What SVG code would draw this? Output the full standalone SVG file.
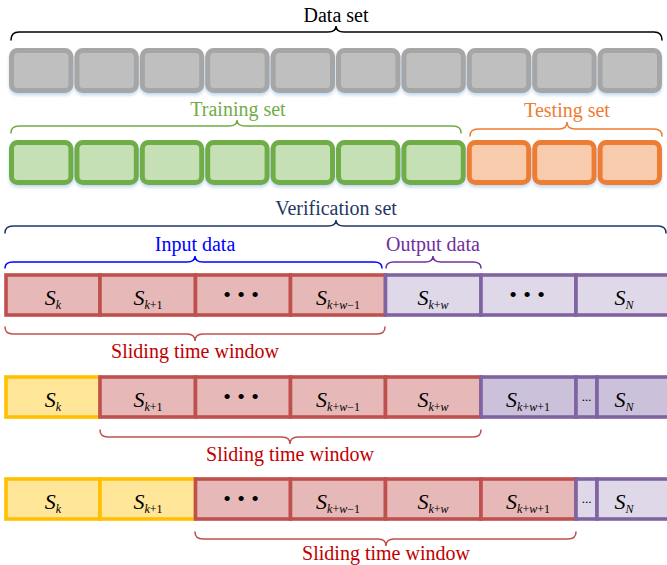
<svg xmlns="http://www.w3.org/2000/svg" width="667" height="565" viewBox="0 0 667 565">
<defs>
<filter id="sh" x="-10%" y="-10%" width="120%" height="140%">
<feDropShadow dx="0" dy="2.5" stdDeviation="1.8" flood-color="#9dc3e6" flood-opacity="0.6"/>
</filter>
</defs>
<style>
.lbl{font-family:"Liberation Serif","Times New Roman",serif;font-size:20px;text-anchor:middle}
.s{font-family:"Liberation Serif","Times New Roman",serif;font-size:22px;font-style:italic;text-anchor:middle;fill:#000}
.i{font-size:12px;font-style:italic}
.u{font-size:12px;font-style:normal}
.dots{font-family:"Liberation Serif","Times New Roman",serif;font-size:22px;text-anchor:middle;fill:#000}
.sm{font-family:"Liberation Serif","Times New Roman",serif;font-size:13px;text-anchor:middle;fill:#000}
.gray{fill:#bfbfbf;stroke:#a6a6a6;stroke-width:5}
.green{fill:#c5e0b4;stroke:#70ad47;stroke-width:5}
.orange{fill:#f8cbad;stroke:#ed7d31;stroke-width:5}
.red{fill:#e6b9b8;stroke:#c0504d;stroke-width:3.6}
.pl{fill:#dfd8e8;stroke:#8064a2;stroke-width:3.6}
.pd{fill:#ccc1da;stroke:#8064a2;stroke-width:3.6}
.yel{fill:#ffe699;stroke:#ffc000;stroke-width:3.6}
.br{fill:none;stroke-width:1.5;stroke-linecap:round}
</style>

<g id="connectors">
<path class="br" stroke="#000" d="M11 40 Q11 32 19 32 H328 Q336 32 336 26 Q336 32 344 32 H654 Q662 32 662 40"/>
<path class="br" stroke="#70ad47" d="M11 133 Q11 126 19 126 H229 Q237 126 237 120 Q237 126 245 126 H453 Q461 126 461 133"/>
<path class="br" stroke="#ed7d31" d="M470 136 Q470 129 478 129 H559 Q567 129 567 122 Q567 129 575 129 H654 Q662 129 662 136"/>
<path class="br" stroke="#1f3864" d="M5 233 Q5 226 13 226 H328 Q336 226 336 220 Q336 226 344 226 H658 Q666 226 666 233"/>
<path class="br" stroke="#0000ff" d="M5 268 Q5 262 13 262 H187 Q195 262 195 256 Q195 262 203 262 H374 Q382 262 382 268"/>
<path class="br" stroke="#7030a0" d="M386 268 Q386 262 394 262 H425 Q433 262 433 256 Q433 262 441 262 H473 Q481 262 481 268"/>
<path class="br" stroke="#c0504d" d="M5 327 Q5 334 13 334 H187 Q195 334 195 341 Q195 334 203 334 H377 Q385 334 385 327"/>
<path class="br" stroke="#c0504d" d="M100 430 Q100 437 108 437 H282 Q290 437 290 444 Q290 437 298 437 H473 Q481 437 481 430"/>
<path class="br" stroke="#c0504d" d="M195 532 Q195 539 203 539 H378 Q386 539 386 546 Q386 539 394 539 H568 Q576 539 576 532"/>
</g>

<g id="labels">
<text class="lbl" x="336" y="22" fill="#000">Data set</text>
<text class="lbl" x="238" y="116" fill="#70ad47">Training set</text>
<text class="lbl" x="567" y="117" fill="#ed7d31">Testing set</text>
<text class="lbl" x="336" y="215" fill="#1f3864">Verification set</text>
<text class="lbl" x="195" y="251" fill="#0000ff">Input data</text>
<text class="lbl" x="433" y="251" fill="#7030a0">Output data</text>
<text class="lbl" x="195" y="358" fill="#c00000">Sliding time window</text>
<text class="lbl" x="290" y="461" fill="#c00000">Sliding time window</text>
<text class="lbl" x="386" y="560" fill="#c00000">Sliding time window</text>
</g>

<g id="dataset" filter="url(#sh)">
<rect class="gray" x="11.5" y="50.5" width="59.4" height="40" rx="6"/>
<rect class="gray" x="76.9" y="50.5" width="59.4" height="40" rx="6"/>
<rect class="gray" x="142.3" y="50.5" width="59.4" height="40" rx="6"/>
<rect class="gray" x="207.7" y="50.5" width="59.4" height="40" rx="6"/>
<rect class="gray" x="273.1" y="50.5" width="59.4" height="40" rx="6"/>
<rect class="gray" x="338.5" y="50.5" width="59.4" height="40" rx="6"/>
<rect class="gray" x="403.9" y="50.5" width="59.4" height="40" rx="6"/>
<rect class="gray" x="469.3" y="50.5" width="59.4" height="40" rx="6"/>
<rect class="gray" x="534.7" y="50.5" width="59.4" height="40" rx="6"/>
<rect class="gray" x="600.1" y="50.5" width="59.4" height="40" rx="6"/>
</g>

<g id="training" filter="url(#sh)">
<rect class="green" x="11.5" y="142.5" width="59.4" height="40" rx="6"/>
<rect class="green" x="76.9" y="142.5" width="59.4" height="40" rx="6"/>
<rect class="green" x="142.3" y="142.5" width="59.4" height="40" rx="6"/>
<rect class="green" x="207.7" y="142.5" width="59.4" height="40" rx="6"/>
<rect class="green" x="273.1" y="142.5" width="59.4" height="40" rx="6"/>
<rect class="green" x="338.5" y="142.5" width="59.4" height="40" rx="6"/>
<rect class="green" x="403.9" y="142.5" width="59.4" height="40" rx="6"/>
</g>

<g id="testing" filter="url(#sh)">
<rect class="orange" x="469.3" y="142.5" width="59.4" height="40" rx="6"/>
<rect class="orange" x="534.7" y="142.5" width="59.4" height="40" rx="6"/>
<rect class="orange" x="600.1" y="142.5" width="59.4" height="40" rx="6"/>
</g>

<g id="row1">
<rect class="red" x="6" y="275" width="94" height="40"/>
<rect class="red" x="100" y="275" width="95.5" height="40"/>
<rect class="red" x="195.5" y="275" width="95" height="40"/>
<rect class="red" x="290.5" y="275" width="95" height="40"/>
<rect class="pl" x="385.5" y="275" width="95.5" height="40"/>
<rect class="pl" x="481" y="275" width="95" height="40"/>
<rect class="pl" x="576" y="275" width="96" height="40"/>
<text class="s" x="53" y="305">S<tspan class="i" dy="4">k</tspan></text>
<text class="s" x="148" y="305">S<tspan class="i" dy="4">k</tspan><tspan class="u">+1</tspan></text>
<text class="dots" x="227 241 255" y="302">•••</text>
<text class="s" x="338" y="305">S<tspan class="i" dy="4">k</tspan><tspan class="u">+</tspan><tspan class="i">w</tspan><tspan class="u">−1</tspan></text>
<text class="s" x="433" y="305">S<tspan class="i" dy="4">k</tspan><tspan class="u">+</tspan><tspan class="i">w</tspan></text>
<text class="dots" x="513 527 541" y="302">•••</text>
<text class="s" x="624" y="305">S<tspan class="i" dy="4">N</tspan></text>
</g>

<g id="row2">
<rect class="yel" x="6" y="377" width="94" height="40"/>
<rect class="red" x="100" y="377" width="95.5" height="40"/>
<rect class="red" x="195.5" y="377" width="95" height="40"/>
<rect class="red" x="290.5" y="377" width="95" height="40"/>
<rect class="red" x="385.5" y="377" width="95.5" height="40"/>
<rect class="pd" x="481" y="377" width="95" height="40"/>
<rect class="pd" x="576" y="377" width="21" height="40"/>
<rect class="pd" x="597" y="377" width="75" height="40"/>
<text class="s" x="53" y="407">S<tspan class="i" dy="4">k</tspan></text>
<text class="s" x="148" y="407">S<tspan class="i" dy="4">k</tspan><tspan class="u">+1</tspan></text>
<text class="dots" x="227 241 255" y="404">•••</text>
<text class="s" x="338" y="407">S<tspan class="i" dy="4">k</tspan><tspan class="u">+</tspan><tspan class="i">w</tspan><tspan class="u">−1</tspan></text>
<text class="s" x="433" y="407">S<tspan class="i" dy="4">k</tspan><tspan class="u">+</tspan><tspan class="i">w</tspan></text>
<text class="s" x="528" y="407">S<tspan class="i" dy="4">k</tspan><tspan class="u">+</tspan><tspan class="i">w</tspan><tspan class="u">+1</tspan></text>
<text class="sm" x="586.5" y="400.5">...</text>
<text class="s" x="624" y="407">S<tspan class="i" dy="4">N</tspan></text>
</g>

<g id="row3">
<rect class="yel" x="6" y="479" width="94" height="40"/>
<rect class="yel" x="100" y="479" width="95.5" height="40"/>
<rect class="red" x="195.5" y="479" width="95" height="40"/>
<rect class="red" x="290.5" y="479" width="95" height="40"/>
<rect class="red" x="385.5" y="479" width="95.5" height="40"/>
<rect class="red" x="481" y="479" width="95" height="40"/>
<rect class="pl" x="576" y="479" width="21" height="40"/>
<rect class="pl" x="597" y="479" width="75" height="40"/>
<text class="s" x="53" y="509">S<tspan class="i" dy="4">k</tspan></text>
<text class="s" x="148" y="509">S<tspan class="i" dy="4">k</tspan><tspan class="u">+1</tspan></text>
<text class="dots" x="227 241 255" y="506">•••</text>
<text class="s" x="338" y="509">S<tspan class="i" dy="4">k</tspan><tspan class="u">+</tspan><tspan class="i">w</tspan><tspan class="u">−1</tspan></text>
<text class="s" x="433" y="509">S<tspan class="i" dy="4">k</tspan><tspan class="u">+</tspan><tspan class="i">w</tspan></text>
<text class="s" x="528" y="509">S<tspan class="i" dy="4">k</tspan><tspan class="u">+</tspan><tspan class="i">w</tspan><tspan class="u">+1</tspan></text>
<text class="sm" x="586.5" y="502.5">...</text>
<text class="s" x="624" y="509">S<tspan class="i" dy="4">N</tspan></text>
</g>
</svg>
